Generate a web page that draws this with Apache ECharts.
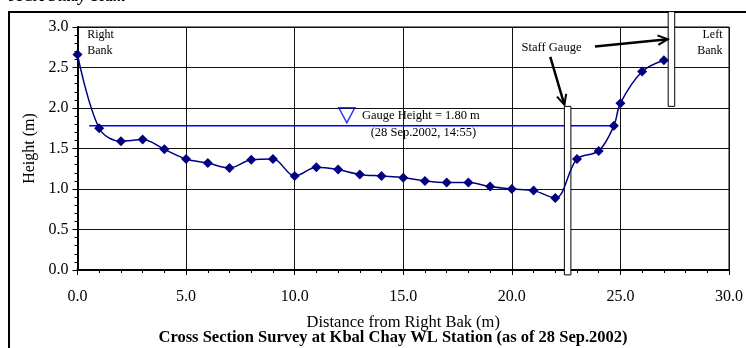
<!DOCTYPE html>
<html>
<head>
<meta charset="utf-8">
<script src="https://cdn.jsdelivr.net/npm/echarts@6/dist/echarts.min.js"></script>
<style>html,body{margin:0;padding:0;background:#fff;}#c{width:746px;height:348px;}</style>
</head>
<body>
<div id="c"></div>
<script>
// Survey points: distance from right bank (m) and height (m)
const distance = [0,1,2,3,4,5,6,7,8,9,10,11,12,13,14,15,16,17,18,19,20,21,22,23,24,24.7,25,26,27];
const height   = [2.66,1.75,1.59,1.61,1.49,1.37,1.32,1.26,1.36,1.37,1.16,1.27,1.24,1.18,1.16,1.14,1.10,1.08,1.08,1.03,1.00,0.98,0.89,1.37,1.47,1.78,2.06,2.45,2.59];
// Gauge water level line
const gaugeX = [0.54, 24.7];
const gaugeLevel = 1.78;
const gaugeMarker = [12.4, 1.91];
// Staff gauges [xFrom, xTo, yBottom, yTop]
const staffGauges = [[22.42, 22.72, -0.06, 2.02], [27.2, 27.5, 2.02, 3.19]];
// Arrows [x1,y1,x2,y2] (data units)
const arrows = [[21.77, 2.63, 22.42, 2.04], [23.83, 2.76, 27.18, 2.85]];
const xTicks = [0,5,10,15,20,25,30];
const yTicks = [0,0.5,1,1.5,2,2.5,3];

const serif = 'Liberation Serif';
const chart = echarts.init(document.getElementById('c'));
const option = {
  animation: false,
  grid: {left: 77.5, right: 14.3, top: 27, bottom: 78, show: true, borderColor: '#000', borderWidth: 1},
  xAxis: {
    type: 'value', min: xTicks[0], max: xTicks[xTicks.length-1], interval: 5,
    name: 'Distance from Right Bak (m)', nameLocation: 'middle', nameGap: 44,
    nameTextStyle: {fontFamily: serif, fontSize: 16.5, color: '#000'},
    axisLine: {lineStyle: {color: '#000', width: 2}},
    axisTick: {show: true, length: 5, lineStyle: {color: '#000', width: 1}},
    minorTick: {show: true, splitNumber: 5, length: 3, lineStyle: {color: '#000', width: 1}},
    splitLine: {show: true, lineStyle: {color: '#111', width: 1}},
    axisLabel: {formatter: v => v.toFixed(1), fontFamily: serif, fontSize: 16, color: '#000', margin: 19}
  },
  yAxis: {
    type: 'value', min: yTicks[0], max: yTicks[yTicks.length-1], interval: 0.5,
    name: 'Height (m)', nameLocation: 'middle', nameGap: 37,
    nameTextStyle: {fontFamily: serif, fontSize: 16, color: '#000'},
    axisLine: {show: true, lineStyle: {color: '#000', width: 2}},
    axisTick: {show: true, length: 5, lineStyle: {color: '#000', width: 1}},
    minorTick: {show: true, splitNumber: 5, length: 3, lineStyle: {color: '#000', width: 1}},
    splitLine: {show: true, lineStyle: {color: '#111', width: 1}},
    axisLabel: {formatter: v => v.toFixed(1), fontFamily: serif, fontSize: 16, color: '#000', margin: 9}
  },
  series: [
    {
      type: 'custom', z: 3, clip: false,
      data: staffGauges,
      renderItem: function (params, api) {
        const p1 = api.coord([api.value(0), api.value(3)]);
        const p2 = api.coord([api.value(1), api.value(2)]);
        return {type: 'rect', shape: {x: p1[0], y: p1[1], width: p2[0]-p1[0], height: p2[1]-p1[1]},
          style: {fill: '#fff', stroke: '#000', lineWidth: 1}};
      }
    },
    {
      type: 'line', data: gaugeX.map(x => [x, gaugeLevel]), showSymbol: false, symbol: 'none',
      lineStyle: {color: '#0000ff', width: 1.5}, z: 2
    },
    {
      type: 'scatter', data: [gaugeMarker], symbol: 'triangle', symbolRotate: 180, symbolSize: [16, 15],
      itemStyle: {color: 'rgba(0,0,0,0)', borderColor: '#0000ff', borderWidth: 1.5}, z: 4
    },
    {
      type: 'line', data: distance.map((d, i) => [d, height[i]]), smooth: 0.35,
      symbol: 'diamond', symbolSize: 10, showSymbol: true,
      lineStyle: {color: '#000080', width: 1.5}, itemStyle: {color: '#000080'}, z: 5
    }
  ]
};
chart.setOption(option);

function px(x, y) { return chart.convertToPixel({gridIndex: 0}, [x, y]); }
function txt(x, y, s, opts) {
  return Object.assign({type: 'text', x: x, y: y, style: Object.assign({text: s, fontFamily: serif, fontSize: 12, fill: '#000', verticalAlign: 'middle', align: 'left'}, opts || {})});
}
const g = [];
// outer frame
g.push({type: 'rect', shape: {x: 9, y: 12, width: 800, height: 400}, style: {fill: 'none', stroke: '#000', lineWidth: 2}, z: 0});
g.push(txt(9, -3, 'JICA Study Team', {fontWeight: 'bold', fontStyle: 'italic', fontSize: 16}));
// bank labels
let p = px(0.45, 2.9); g.push(txt(p[0], p[1], 'Right'));
p = px(0.45, 2.7); g.push(txt(p[0], p[1], 'Bank'));
p = px(29.7, 2.9); g.push(txt(p[0], p[1], 'Left', {align: 'right'}));
p = px(29.7, 2.7); g.push(txt(p[0], p[1], 'Bank', {align: 'right'}));
// gauge annotation
p = px(13.1, 1.91); g.push(txt(p[0], p[1], 'Gauge Height = 1.80 m', {fontSize: 12.5}));
p = px(13.5, 1.70); g.push(txt(p[0], p[1], '(28 Sep.2002, 14:55)', {fontSize: 12.5}));
p = px(20.45, 2.74); g.push(txt(p[0], p[1], 'Staff Gauge', {fontSize: 12.5}));
// arrows
arrows.forEach(a => {
  const s = px(a[0], a[1]), e = px(a[2], a[3]);
  const ang = Math.atan2(e[1]-s[1], e[0]-s[0]);
  const L = 11, w = 0.45;
  const h1 = [e[0] - L*Math.cos(ang - w), e[1] - L*Math.sin(ang - w)];
  const h2 = [e[0] - L*Math.cos(ang + w), e[1] - L*Math.sin(ang + w)];
  g.push({type: 'line', shape: {x1: s[0], y1: s[1], x2: e[0], y2: e[1]}, style: {stroke: '#000', lineWidth: 2.5}, z: 10});
  g.push({type: 'polyline', shape: {points: [h1, e, h2]}, style: {stroke: '#000', lineWidth: 2, fill: 'none'}, z: 10});
});
// bottom title
g.push(txt(393, 338, 'Cross Section Survey at Kbal Chay WL Station (as of 28 Sep.2002)', {fontWeight: 'bold', fontSize: 16.5, align: 'center'}));
chart.setOption({graphic: g});
</script>
</body>
</html>
